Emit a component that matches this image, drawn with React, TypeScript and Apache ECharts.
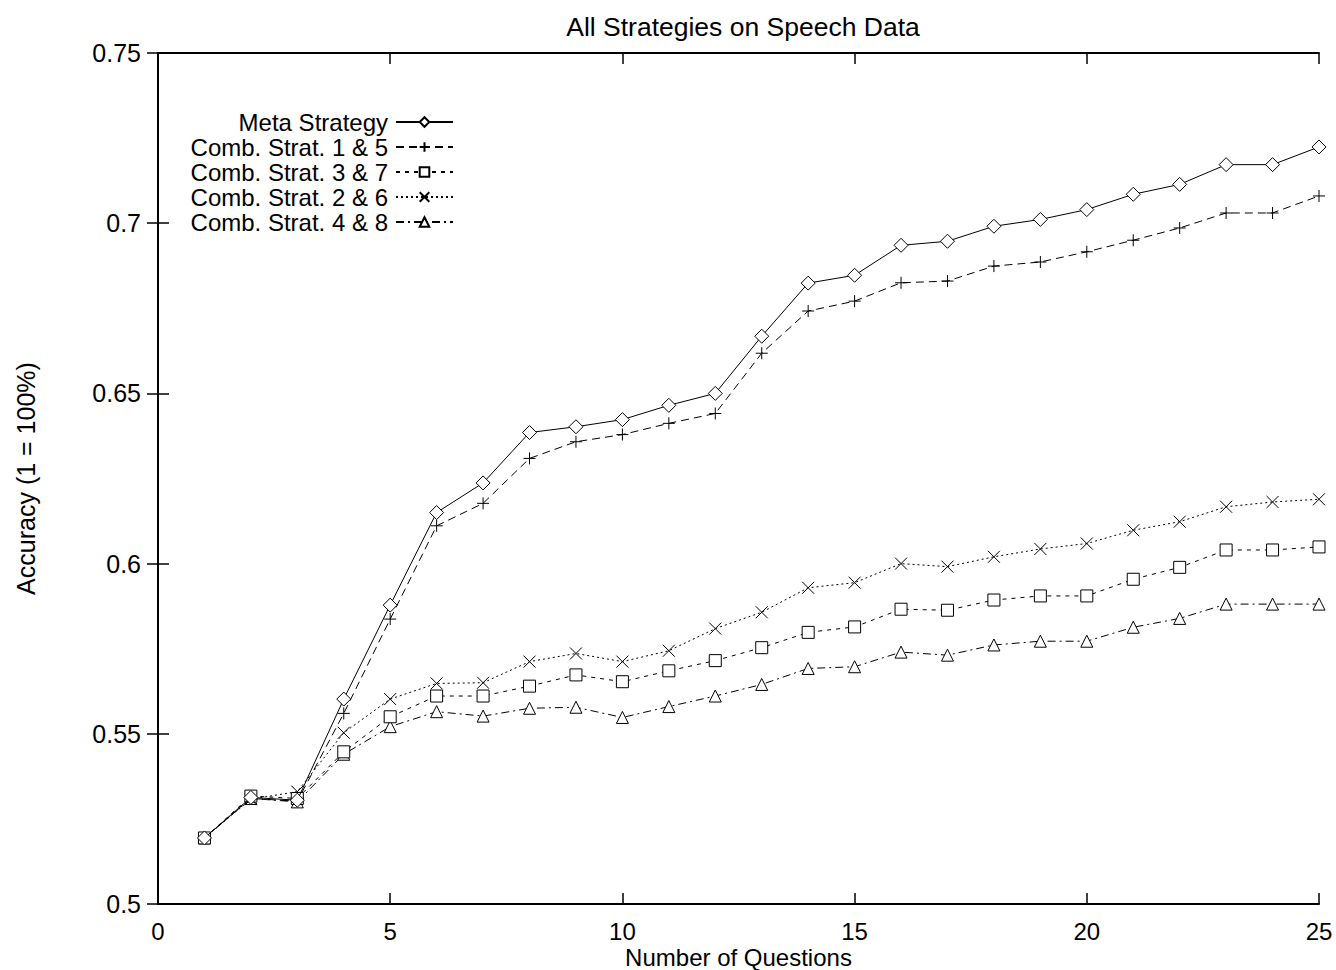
import React, { useEffect, useRef } from "react";
import * as echarts from "echarts";

const questions = [1,2,3,4,5,6,7,8,9,10,11,12,13,14,15,16,17,18,19,20,21,22,23,24,25];
const seriesNames = ["Meta Strategy", "Comb. Strat. 1 & 5", "Comb. Strat. 3 & 7", "Comb. Strat. 2 & 6", "Comb. Strat. 4 & 8"];
const metaStrategy = [0.5194,0.5313,0.5305,0.5602,0.5878,0.6150,0.6237,0.6385,0.6402,0.6423,0.6465,0.6500,0.6668,0.6824,0.6847,0.6935,0.6947,0.6991,0.7011,0.7040,0.7085,0.7114,0.7172,0.7172,0.7224];
const comb15 = [0.5194,0.5310,0.5302,0.5560,0.5837,0.6111,0.6177,0.6309,0.6358,0.6379,0.6412,0.6441,0.6618,0.6742,0.6771,0.6825,0.6830,0.6874,0.6886,0.6916,0.6950,0.6986,0.7030,0.7030,0.7080];
const comb37 = [0.5194,0.5317,0.5310,0.5447,0.5550,0.5611,0.5611,0.5640,0.5673,0.5653,0.5685,0.5715,0.5753,0.5798,0.5814,0.5866,0.5863,0.5893,0.5905,0.5905,0.5954,0.5989,0.6040,0.6040,0.6049];
const comb26 = [0.5194,0.5308,0.5330,0.5503,0.5602,0.5648,0.5650,0.5712,0.5736,0.5712,0.5744,0.5809,0.5857,0.5929,0.5944,0.6000,0.5991,0.6020,0.6043,0.6059,0.6098,0.6123,0.6167,0.6181,0.6189];
const comb48 = [0.5194,0.5310,0.5300,0.5440,0.5521,0.5565,0.5552,0.5575,0.5578,0.5548,0.5580,0.5611,0.5645,0.5692,0.5697,0.5740,0.5731,0.5761,0.5772,0.5772,0.5813,0.5839,0.5881,0.5881,0.5881];

const FONT = "Liberation Sans, Arial, Helvetica, sans-serif";
const PLUS = "path://M0,5L10,5M5,0L5,10";
const CROSS = "path://M0,0L10,10M10,0L0,10";

export default function App() {
  const ref = useRef<HTMLDivElement>(null);
  useEffect(() => {
    if (!ref.current) return;
    const chart = echarts.init(ref.current, undefined, { renderer: "svg" });
    const allData = [metaStrategy, comb15, comb37, comb26, comb48];
    const symbols = ["diamond", PLUS, "rect", CROSS, "triangle"];
    const symbolSizes = [14, 12, 12, 12, 12];
    const dashes: any[] = ["solid", [8, 5], [4, 5], [2, 3], [8, 4, 2, 4]];
    const series = allData.map((d, i) => ({
      name: seriesNames[i],
      type: "line",
      data: questions.map((q, j) => [q, d[j]]),
      symbol: symbols[i],
      symbolSize: symbolSizes[i],
      showAllSymbol: true,
      lineStyle: { color: "#000", width: 1, type: dashes[i] },
      itemStyle: { color: i === 1 || i === 3 ? "none" : "#fff", borderColor: "#000", borderWidth: 1 },
      z: 10 - i,
    }));
    const rowCenters = [122, 147, 172, 197, 222];
    const legends = seriesNames.map((n, i) => ({
      data: [n],
      right: 882,
      top: rowCenters[i] - 12,
      align: "right",
      padding: 0,
      itemWidth: 57,
      itemHeight: 12,
      selectedMode: false,
      textStyle: { fontFamily: FONT, fontSize: 24, lineHeight: 24, color: "#000", padding: [0, 3, 0, 0] },
    }));
    const commonAxisLine = { show: true, lineStyle: { color: "#000", width: 2 } };
    const commonTick = { show: true, inside: true, length: 11, lineStyle: { color: "#000", width: 1.5 } };
    chart.setOption({
      animation: false,
      backgroundColor: "#fff",
      title: {
        text: "All Strategies on Speech Data",
        left: 738,
        textAlign: "center",
        top: 8,
        textStyle: { fontFamily: FONT, fontSize: 26.5, fontWeight: "normal", color: "#000" },
      },
      legend: legends,
      grid: { left: 158, right: 17, top: 53, bottom: 66, outerBoundsMode: "none", containLabel: false },
      xAxis: [
        {
          type: "value", min: 0, max: 25, interval: 5, position: "bottom",
          name: "Number of Questions", nameLocation: "middle", nameGap: 42, nameMoveOverlap: false,
          nameTextStyle: { fontFamily: FONT, fontSize: 24, lineHeight: 22, color: "#000" },
          axisLine: commonAxisLine, axisTick: commonTick,
          axisLabel: { fontFamily: FONT, fontSize: 24, lineHeight: 20, color: "#000", margin: 17 },
          splitLine: { show: false },
        },
        {
          type: "value", min: 0, max: 25, interval: 5, position: "top",
          axisLine: commonAxisLine, axisTick: commonTick,
          axisLabel: { show: false }, splitLine: { show: false },
        },
      ],
      yAxis: [
        {
          type: "value", min: 0.5, max: 0.75, interval: 0.05, position: "left",
          name: "Accuracy (1 = 100%)", nameLocation: "middle", nameGap: 120, nameMoveOverlap: false,
          nameTextStyle: { fontFamily: FONT, fontSize: 25, color: "#000" },
          axisLine: commonAxisLine, axisTick: commonTick,
          axisLabel: { fontFamily: FONT, fontSize: 25, color: "#000", margin: 17 },
          splitLine: { show: false },
        },
        {
          type: "value", min: 0.5, max: 0.75, interval: 0.05, position: "right",
          axisLine: commonAxisLine, axisTick: commonTick,
          axisLabel: { show: false }, splitLine: { show: false },
        },
      ],
      series,
    });
    return () => chart.dispose();
  }, []);
  return <div ref={ref} style={{ position: "fixed", left: 0, top: 0, width: 1336, height: 970 }} />;
}
